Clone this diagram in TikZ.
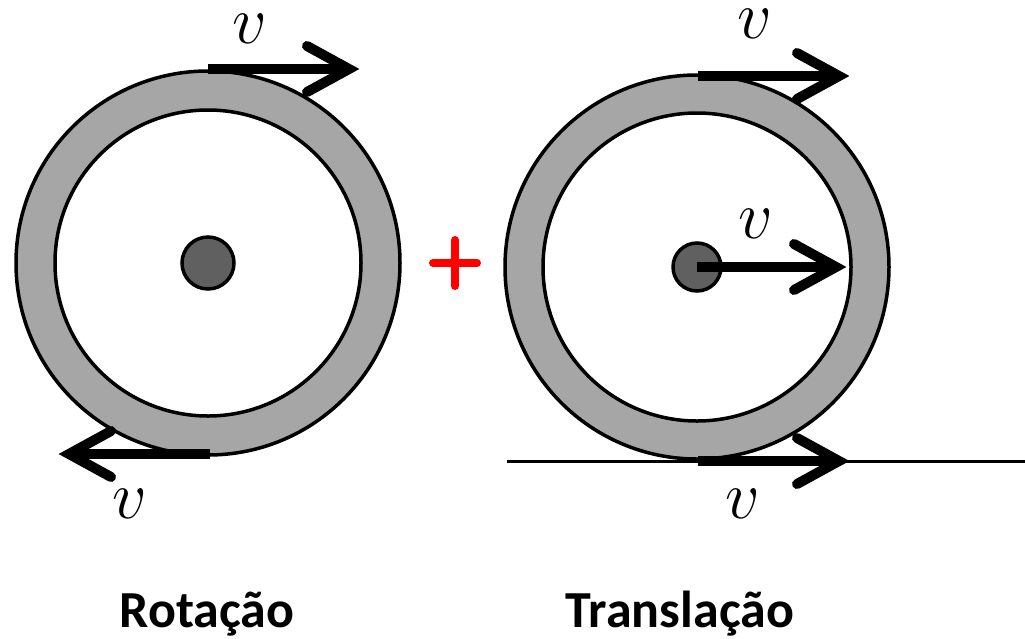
\RequirePackage{fix-cm}
\documentclass[tikz,border=0pt]{standalone}
\usepackage{fontspec}
\newfontfamily\labfont{Carlito}
\usetikzlibrary{calc}
\definecolor{ringgray}{RGB}{166,166,166}
\definecolor{hubgray}{RGB}{96,96,96}
\begin{document}
\begin{tikzpicture}[x=1pt,y=-1pt,
  ring/.style={circle, draw, line width=3.5pt, fill=ringgray, minimum size=#1, inner sep=0pt},
  innerdisc/.style={circle, draw, line width=3.5pt, fill=white, minimum size=#1, inner sep=0pt},
  hub/.style={circle, draw, line width=3.5pt, fill=hubgray, minimum size=#1, inner sep=0pt},
  shaft/.style={line width=10.5pt, line cap=butt},
  barb/.style={line width=10pt, line join=miter, miter limit=10, line cap=round},
  vlabel/.style={inner sep=0pt, font=\fontsize{68}{70}\selectfont},
  caption/.style={anchor=base, inner sep=0pt, font=\labfont\bfseries\fontsize{52}{60}\selectfont},
  ground/.style={line width=3pt}
]
\useasboundingbox (0,0) rectangle (1025,638);

% left wheel (rotation)
\node[ring=384pt] (Lout) at (208,263) {};
\node[innerdisc=306pt] (Lin) at (208,263) {};
\node[hub=52pt] (Lhub) at (208,263) {};

% right wheel (translation)
\node[ring=384pt] (Rout) at (697,267) {};
\node[innerdisc=308pt] (Rin) at (697,267) {};
\node[hub=48pt] (Rhub) at (697,267) {};

% ground
\coordinate (G0) at (507,461);
\coordinate (G1) at (1025,461);
\draw[ground] (G0) -- (G1);

% left top arrow
\coordinate (LT0) at (208,69);
\coordinate (LT1) at (349,69);
\draw[shaft] (LT0) -- (LT1);
\draw[barb] ($(LT1)+(-42,-23)$) -- (LT1) -- ($(LT1)+(-42,23)$);

% left bottom arrow
\coordinate (LB0) at (210,454);
\coordinate (LB1) at (69,454);
\draw[shaft] (LB0) -- (LB1);
\draw[barb] ($(LB1)+(42,-23)$) -- (LB1) -- ($(LB1)+(42,23)$);

% right top arrow
\coordinate (RT0) at (698,76);
\coordinate (RT1) at (839,76);
\draw[shaft] (RT0) -- (RT1);
\draw[barb] ($(RT1)+(-42,-23)$) -- (RT1) -- ($(RT1)+(-42,23)$);

% right middle arrow
\coordinate (RM1) at (836,267);
\draw[shaft] (Rhub.center) -- (RM1);
\draw[barb] ($(RM1)+(-42,-23)$) -- (RM1) -- ($(RM1)+(-42,23)$);

% right bottom arrow
\coordinate (RB0) at (698,461);
\coordinate (RB1) at (839,461);
\draw[shaft] (RB0) -- (RB1);
\draw[barb] ($(RB1)+(-42,-23)$) -- (RB1) -- ($(RB1)+(-42,23)$);

% plus sign
\coordinate (P) at (455,263);
\draw[red, line width=8pt, line cap=round] ($(P)+(-22,0)$) -- ($(P)+(22,0)$);
\draw[red, line width=8pt, line cap=round] ($(P)+(0,-23)$) -- ($(P)+(0,23)$);

% labels v
\node[vlabel] (vLT) at (250,29) {$v$};
\node[vlabel] (vLB) at (130,504) {$v$};
\node[vlabel] (vRT) at (755,24) {$v$};
\node[vlabel] (vRM) at (756,224) {$v$};
\node[vlabel] (vRB) at (743,504) {$v$};

% captions
\node[caption] (capL) at (207,627) {Rotação};
\node[caption] (capR) at (680,627) {Translação};
\end{tikzpicture}
\end{document}
